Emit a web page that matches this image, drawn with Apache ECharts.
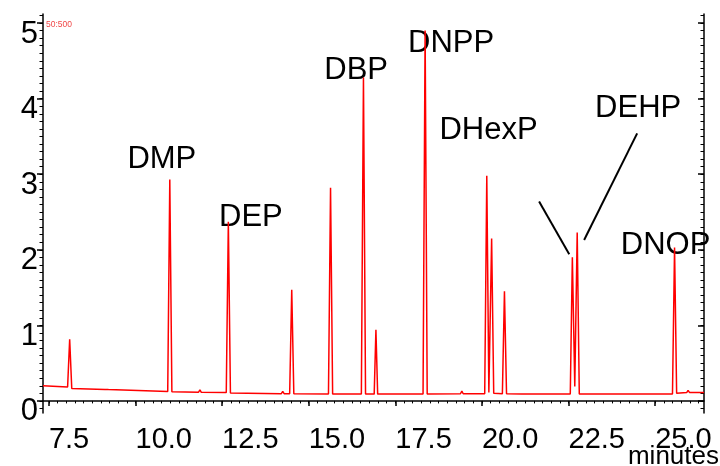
<!DOCTYPE html>
<html>
<head>
<meta charset="utf-8">
<script src="https://cdn.jsdelivr.net/npm/echarts@6/dist/echarts.min.js"></script>
<style>
  html, body { margin: 0; padding: 0; background: #fff; }
  #chart { width: 720px; height: 466px; }
</style>
</head>
<body>
<div id="chart"></div>
<script>
// chromatogram trace [minutes, signal]
const trace = [
  [7.33, 0.20], [8.04, 0.185], [8.10, 0.816], [8.16, 0.165],
  [9.12, 0.152], [9.17, 0.165], [9.22, 0.150],
  [10.93, 0.123], [10.99, 2.93], [11.05, 0.122],
  [11.82, 0.115], [11.86, 0.145], [11.90, 0.113],
  [12.62, 0.110], [12.68, 2.37], [12.74, 0.105],
  [14.21, 0.096], [14.25, 0.125], [14.29, 0.096],
  [14.45, 0.095], [14.51, 1.47], [14.57, 0.095],
  [15.57, 0.092], [15.63, 2.82], [15.69, 0.092],
  [16.52, 0.090], [16.58, 4.28], [16.64, 0.090],
  [16.89, 0.090], [16.94, 0.94], [16.99, 0.090],
  [17.20, 0.090], [17.23, 0.105], [17.26, 0.090],
  [17.68, 0.090], [17.71, 0.100], [17.74, 0.090],
  [17.94, 0.090], [17.97, 0.110], [18.00, 0.090],
  [18.30, 0.090], [18.36, 4.90], [18.42, 0.092],
  [19.38, 0.095], [19.42, 0.130], [19.46, 0.095],
  [20.08, 0.095], [20.14, 2.98], [20.20, 0.110], [20.28, 2.15], [20.34, 0.100],
  [20.59, 0.095], [20.65, 1.45], [20.71, 0.095],
  [21.15, 0.092], [21.19, 0.110], [21.23, 0.092],
  [22.55, 0.090], [22.61, 1.90], [22.68, 0.190], [22.75, 2.23], [22.81, 0.090],
  [24.00, 0.090], [25.50, 0.092], [25.56, 2.03], [25.62, 0.100],
  [25.91, 0.110], [25.95, 0.140], [25.99, 0.112], [26.41, 0.110]
];

// peak names and where their labels sit [minutes, signal]
const peakNames = ['DMP', 'DEP', 'DBP', 'DNPP', 'DHexP', 'DEHP', 'DNOP'];
const peakLabelPos = [
  [10.76, 3.19], [13.33, 2.425], [16.37, 4.375], [19.11, 4.73],
  [20.19, 3.58], [24.51, 3.87], [25.30, 2.055]
];

// black pointer lines for DEHP
const pointerLines = [
  [[21.65, 2.64], [22.52, 1.94]],
  [[22.95, 2.13], [24.48, 3.54]]
];

// axis ticks
const yLabels = [0, 1, 2, 3, 4, 5];
const xLabels = [7.5, 10.0, 12.5, 15.0, 17.5, 20.0, 22.5, 25.0];
const yMinor = [];
for (let v = -1; v <= 51; v++) yMinor.push(v / 10);
const xMinor = [];
for (let v = 30; v <= 105; v++) xMinor.push(v / 4);

const X_MIN = 7.33, X_MAX = 26.41;
const Y_MIN = -0.16, Y_MAX = 5.12;
const FONT = 'Liberation Sans, Arial, sans-serif';

const chart = echarts.init(document.getElementById('chart'));

const yAxisBase = { type: 'value', min: Y_MIN, max: Y_MAX, splitLine: { show: false } };
const xAxisBase = { type: 'value', min: X_MIN, max: X_MAX, splitLine: { show: false } };
const black = { color: '#000', width: 1.5 };

const option = {
  animation: false,
  backgroundColor: '#fff',
  grid: { left: 43, right: 16, top: 14, bottom: 53 },
  xAxis: [
    {
      ...xAxisBase,
      position: 'bottom',
      axisLine: { show: true, lineStyle: black },
      axisTick: { show: true, length: 5, customValues: xLabels, lineStyle: black },
      axisLabel: {
        customValues: xLabels,
        formatter: v => v.toFixed(1),
        align: 'left',
        verticalAlign: 'top',
        margin: 12,
        fontSize: 29,
        fontFamily: FONT,
        color: '#000'
      }
    },
    {
      ...xAxisBase,
      position: 'bottom',
      axisLine: { show: false },
      axisTick: { show: true, length: 2.5, customValues: xMinor, lineStyle: { color: '#000', width: 1 } },
      axisLabel: { show: false }
    }
  ],
  yAxis: [
    {
      ...yAxisBase,
      position: 'left',
      axisLine: { show: true, lineStyle: black },
      axisTick: { show: true, length: 6, customValues: yLabels, lineStyle: black },
      axisLabel: {
        customValues: yLabels,
        margin: 5,
        verticalAlign: 'top',
        lineHeight: 22,
        fontSize: 31,
        fontFamily: FONT,
        color: '#000'
      }
    },
    {
      ...yAxisBase,
      position: 'left',
      axisLine: { show: false },
      axisTick: { show: true, length: 3.5, customValues: yMinor, lineStyle: { color: '#000', width: 1 } },
      axisLabel: { show: false }
    },
    {
      ...yAxisBase,
      position: 'right',
      axisLine: { show: true, lineStyle: black },
      axisTick: { show: true, inside: true, length: 6, customValues: yLabels, lineStyle: black },
      axisLabel: { show: false }
    },
    {
      ...yAxisBase,
      position: 'right',
      axisLine: { show: false },
      axisTick: { show: true, inside: true, length: 3.5, customValues: yMinor, lineStyle: { color: '#000', width: 1 } },
      axisLabel: { show: false }
    }
  ],
  series: [
    {
      type: 'line',
      data: trace,
      showSymbol: false,
      lineStyle: { color: '#ff0000', width: 1.5 },
      z: 3,
      markLine: {
        silent: true,
        symbol: ['none', 'none'],
        label: { show: false },
        lineStyle: { color: '#000', width: 2, type: 'solid' },
        data: pointerLines.map(l => [{ coord: l[0] }, { coord: l[1] }])
      }
    },
    {
      type: 'scatter',
      silent: true,
      data: peakLabelPos.map((p, i) => [p[0], p[1], peakNames[i]]),
      symbolSize: 1,
      itemStyle: { color: 'rgba(0,0,0,0)', opacity: 1 },
      z: 2,
      label: {
        show: true,
        position: 'inside',
        formatter: p => p.value[2],
        fontSize: 31,
        fontFamily: FONT,
        color: '#000',
        opacity: 1,
        textBorderWidth: 0
      }
    }
  ],
  graphic: [
    {
      type: 'text',
      x: 719, y: 470,
      style: {
        text: 'minutes',
        align: 'right',
        verticalAlign: 'bottom',
        fontSize: 26,
        fontFamily: FONT,
        fill: '#000'
      }
    },
    {
      type: 'text',
      x: 46, y: 20,
      style: {
        text: '50:500',
        align: 'left',
        verticalAlign: 'top',
        fontSize: 8.5,
        fontFamily: FONT,
        fill: '#f04848'
      }
    }
  ]
};

chart.setOption(option);
window.addEventListener('resize', () => chart.resize());
</script>
</body>
</html>
